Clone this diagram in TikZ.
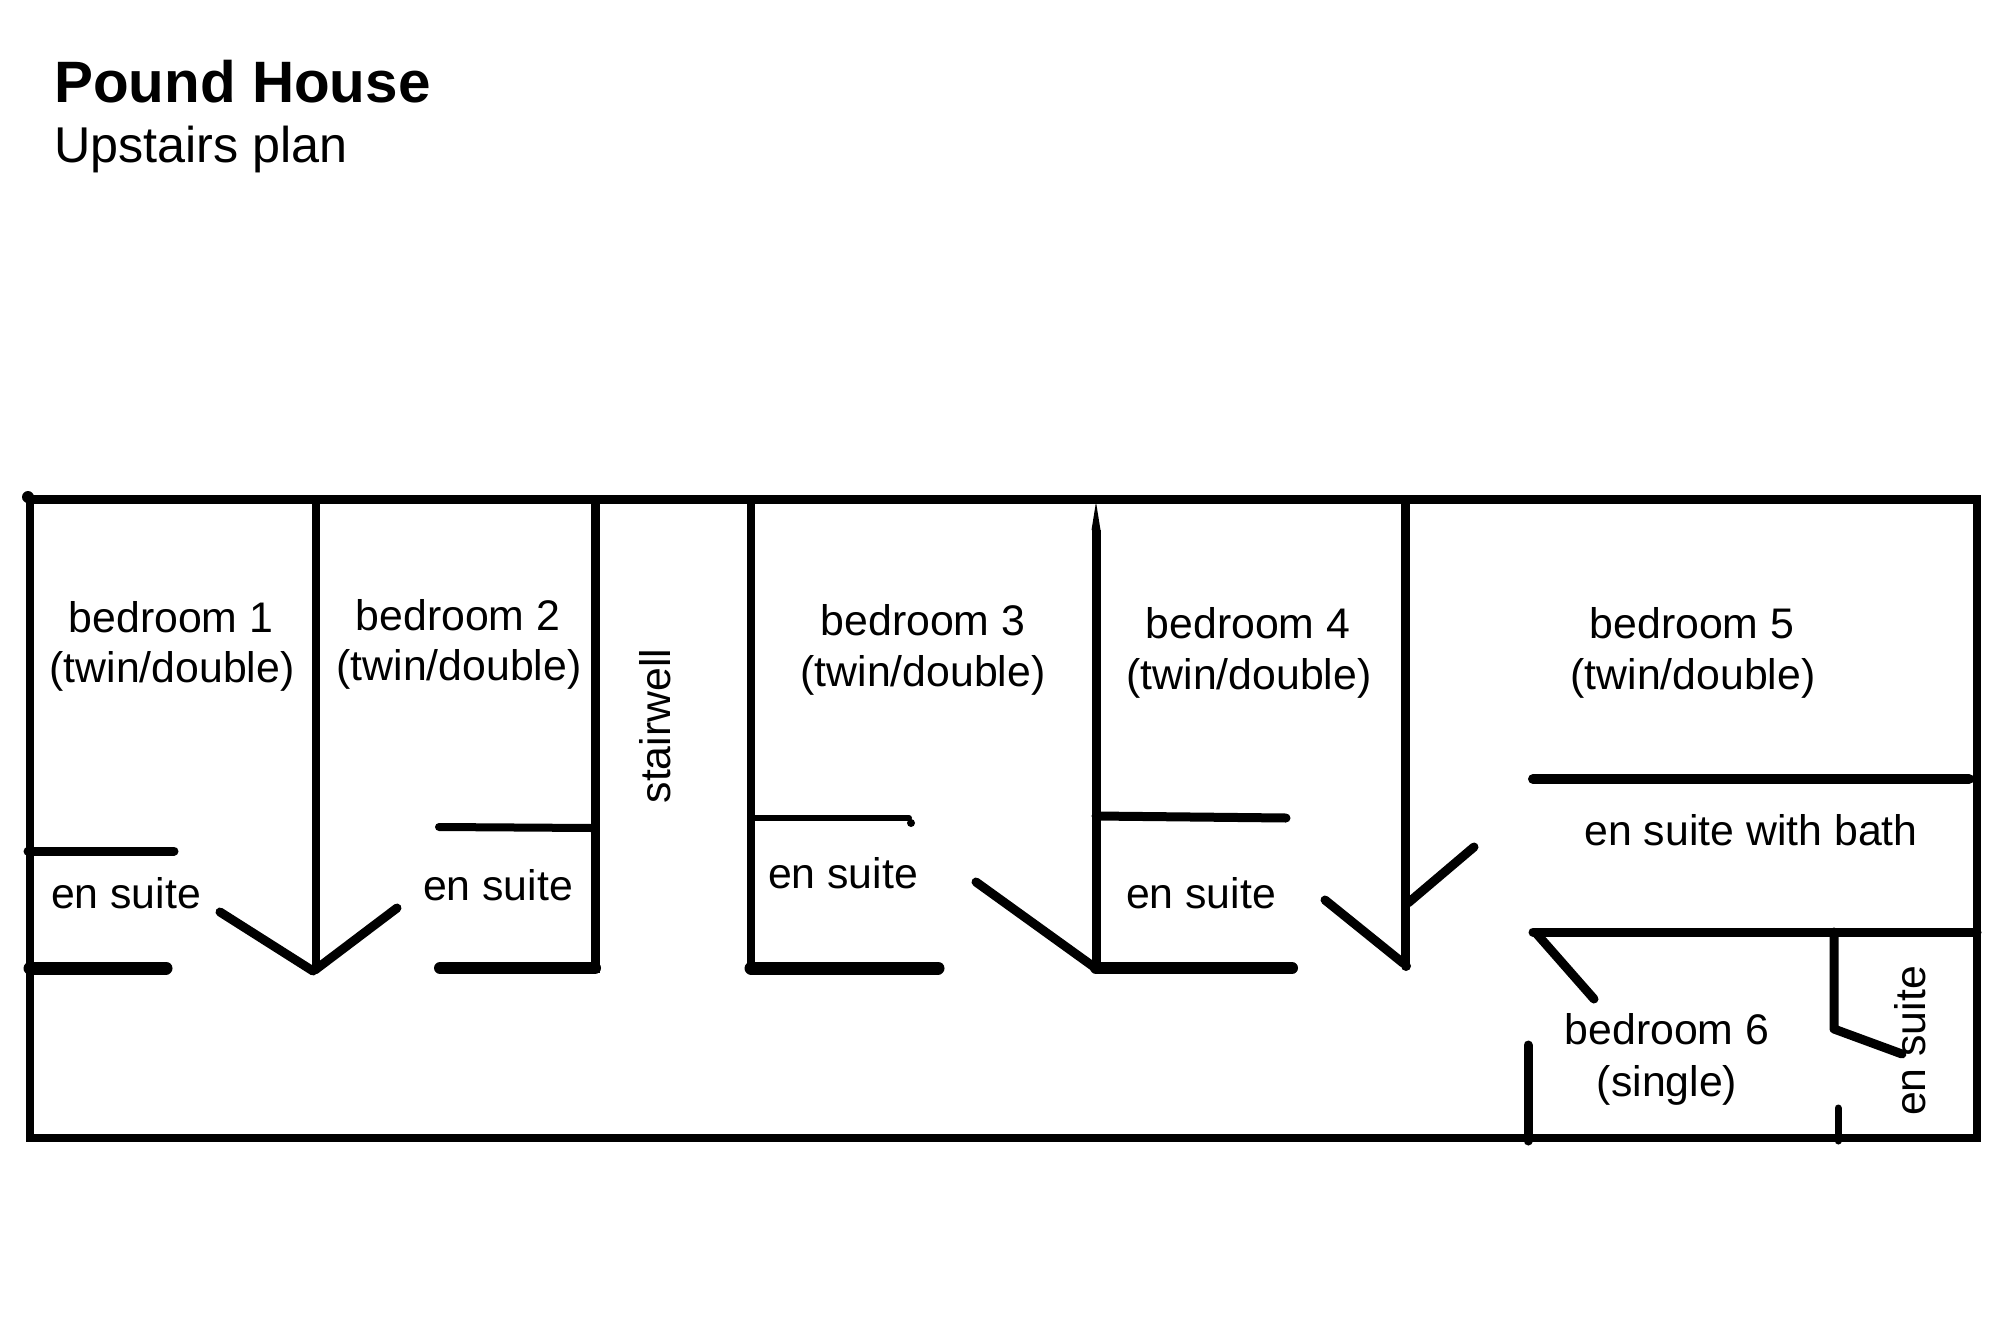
\documentclass[tikz,border=0pt]{standalone}
\usepackage{fontspec}
\setmainfont{Liberation Sans}
\tikzset{
  wall/.style={draw=black,line width=#1,line cap=round,line join=round},
  wall/.default=9pt,
  flat/.style={draw=black,line width=#1,line cap=butt,line join=miter},
  flat/.default=9pt,
  lbl/.style={anchor=base,inner sep=0pt,font=\fontsize{42.8}{50}\selectfont},
  vlbl/.style={lbl,rotate=90},
  ttl/.style={anchor=base west,inner sep=0pt,font=\fontsize{58.4}{66}\selectfont\bfseries},
  sub/.style={anchor=base west,inner sep=0pt,font=\fontsize{50.3}{58}\selectfont}
}
\begin{document}
\begin{tikzpicture}[x=1pt,y=-1pt]
\useasboundingbox (0,0) rectangle (2000,1333);
\fill[white] (0,0) rectangle (2000,1333);
% title
\node[ttl] (title) at (54,102) {Pound House};
\node[sub] (subtitle) at (54,162) {Upstairs plan};
% outer walls
\draw[flat=8pt] (30,499) rectangle (1977,1138);
\draw[flat=9pt] (26,499) -- (1981,499);
\fill[black] (28,497) circle (6pt);
% vertical partitions
\draw[flat=8pt] (316,499) -- (316,970);
\draw[flat=9pt] (595,499) -- (595,973);
\draw[flat=8pt] (751,499) -- (751,968);
\draw[flat=9pt] (1096,530) -- (1096,968);
\fill[black] (1096,502) -- (1100.5,530) -- (1091.5,530) -- cycle;
\draw[flat=9pt] (1405,499) -- (1405,963);
\fill[black] (1406,966) circle (5pt);
% en suite 1
\draw[wall=9pt] (28,851) -- (174,851);
\draw[wall=13pt] (30,968) -- (166,968);
\draw[wall=9pt] (220,912) -- (313,971);
\draw[wall=9pt] (397,908) -- (315,970);
% en suite 2
\draw[wall=8pt] (439,827) -- (592,828);
\draw[wall=12pt] (440,968) -- (595,968);
% en suite 3
\draw[wall=6pt] (751,818) -- (909,818);
\fill[black] (911,823) circle (4pt);
\draw[wall=13pt] (751,968) -- (938,968);
\draw[wall=9pt] (976,882) -- (1094,967);
% en suite 4
\draw[wall=9pt] (1096,816) -- (1286,818);
\draw[wall=12pt] (1096,968) -- (1292,968);
\draw[wall=9pt] (1325,900) -- (1403,963);
\draw[wall=9pt] (1474,847) -- (1408,903);
% bath
\draw[wall=10pt] (1533,779) -- (1969,779);
\draw[wall=9pt] (1533,932) -- (1977,932);
% bedroom 6
\draw[wall=9pt] (1536,933) -- (1594,999);
\draw[wall=9pt] (1528,1045) -- (1528,1141);
\draw[wall=9pt] (1834,932) -- (1834,1029) -- (1902,1054);
\draw[wall=7pt] (1838,1108) -- (1838,1141);
% labels
\node[lbl] (b1) at (171,632) {bedroom 1};
\node[lbl] (b1t) at (172,682) {(twin/double)};
\node[lbl] (b2) at (458,630) {bedroom 2};
\node[lbl] (b2t) at (459,680) {(twin/double)};
\node[vlbl] (stair) at (670,726) {stairwell};
\node[lbl] (b3) at (923,635) {bedroom 3};
\node[lbl] (b3t) at (923,686) {(twin/double)};
\node[lbl] (b4) at (1248,638) {bedroom 4};
\node[lbl] (b4t) at (1249,689) {(twin/double)};
\node[lbl] (b5) at (1692,638) {bedroom 5};
\node[lbl] (b5t) at (1693,689) {(twin/double)};
\node[lbl] (e1) at (126,908) {en suite};
\node[lbl] (e2) at (498,900) {en suite};
\node[lbl] (e3) at (843,888) {en suite};
\node[lbl] (e4) at (1201,908) {en suite};
\node[lbl] (e5) at (1751,845) {en suite with bath};
\node[lbl] (b6) at (1667,1044) {bedroom 6};
\node[lbl] (b6s) at (1667,1096) {(single)};
\node[vlbl] (e6) at (1925,1041) {en suite};
\end{tikzpicture}
\end{document}
